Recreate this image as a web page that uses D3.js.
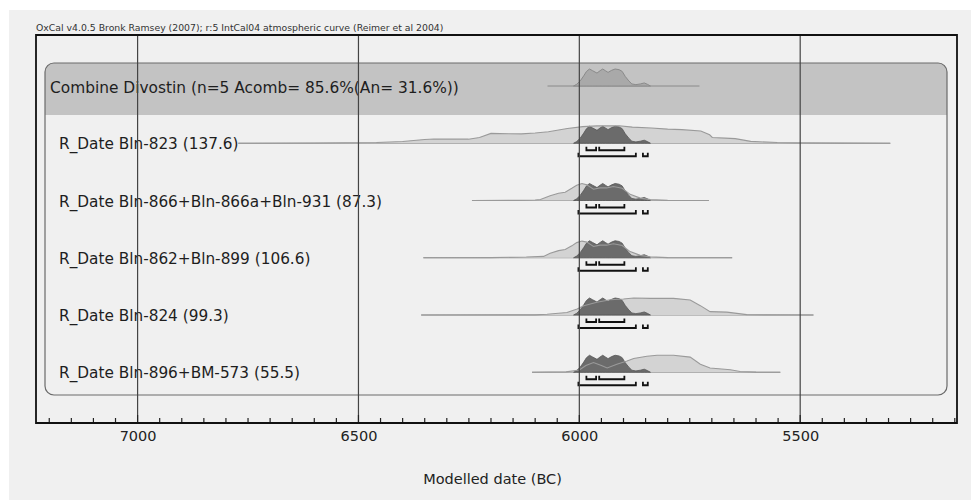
<!DOCTYPE html>
<html><head><meta charset="utf-8">
<script src="https://cdn.jsdelivr.net/npm/d3@7"></script>
<style>
html,body{margin:0;padding:0;background:#ffffff;}
svg{display:block;font-family:"DejaVu Sans",sans-serif;}
</style></head>
<body>
<svg id="chart" width="971" height="500"></svg>
<script>
// ---------- data ----------
const headerText = "OxCal v4.0.5 Bronk Ramsey (2007); r:5 IntCal04 atmospheric curve (Reimer et al 2004)";
const axisTitle = "Modelled date (BC)";
const majorTicks = [7000, 6500, 6000, 5500];
const minorTicks = d3.range(7200, 5149, -50);

const rowNames = [
  "Combine Divostin (n=5 Acomb= 85.6%(An= 31.6%))",
  "R_Date Bln-823 (137.6)",
  "R_Date Bln-866+Bln-866a+Bln-931 (87.3)",
  "R_Date Bln-862+Bln-899 (106.6)",
  "R_Date Bln-824 (99.3)",
  "R_Date Bln-896+BM-573 (55.5)"
];
// baseline extent [from, to] in years BC
const rowSpans = [
  [6072, 5728],
  [6772, 5296],
  [6243, 5707],
  [6353, 5654],
  [6358, 5470],
  [6107, 5545]
];
// posterior (shared by the combine and every date) [year BC, relative density]
const posterior = [
  [6013,0],[6006,0.1],[5998,0.3],[5990,0.6],[5984,0.85],[5977,1.0],[5970,0.9],[5960,0.76],
  [5953,0.9],[5947,1.0],[5941,0.9],[5935,0.8],[5927,0.92],[5919,1.0],[5910,0.96],[5903,0.86],
  [5896,0.56],[5888,0.3],[5881,0.12],[5872,0.08],[5862,0.12],[5853,0.18],[5846,0.1],[5839,0]
];
// unmodelled (prior) distributions of the dates
const priorBln823 = [
  [6772,0],[6600,0.01],[6459,0.04],[6400,0.1],[6350,0.22],[6329,0.25],[6251,0.24],[6226,0.34],
  [6200,0.58],[6160,0.56],[6131,0.55],[6100,0.6],[6070,0.68],[6027,0.87],[5992,0.98],[5960,1.02],
  [5910,1.03],[5880,0.95],[5837,0.9],[5800,0.83],[5768,0.8],[5725,0.72],[5705,0.5],[5699,0.34],
  [5670,0.3],[5647,0.27],[5612,0.11],[5552,0.04],[5509,0.02],[5400,0.005],[5296,0]
];
const priorBln866 = [
  [6243,0],[6150,0.01],[6100,0.03],[6088,0.06],[6066,0.28],[6047,0.43],[6032,0.49],[6017,0.72],
  [6006,0.9],[5994,1.0],[5983,0.92],[5968,0.66],[5953,0.74],[5938,0.74],[5923,0.82],[5903,0.72],
  [5885,0.36],[5862,0.14],[5839,0.05],[5800,0.01],[5707,0]
];
const priorBln862 = [
  [6353,0],[6201,0.01],[6120,0.04],[6081,0.08],[6066,0.26],[6047,0.42],[6032,0.49],[6017,0.7],
  [6006,0.89],[5994,0.98],[5983,0.92],[5968,0.66],[5953,0.74],[5938,0.74],[5923,0.82],[5903,0.72],
  [5885,0.36],[5862,0.14],[5839,0.05],[5800,0.01],[5654,0]
];
const priorBln824 = [
  [6358,0],[6150,0.005],[6100,0.01],[6073,0.04],[6028,0.15],[6005,0.35],[5990,0.55],[5960,0.75],
  [5930,0.9],[5900,0.94],[5877,1.0],[5839,0.98],[5787,0.98],[5749,0.88],[5726,0.55],[5704,0.2],
  [5666,0.17],[5621,0.02],[5580,0.005],[5470,0]
];
const priorBln896 = [
  [6107,0],[6030,0.02],[6000,0.13],[5985,0.4],[5968,0.57],[5950,0.4],[5937,0.25],[5915,0.47],
  [5892,0.66],[5877,0.81],[5847,0.94],[5824,1.0],[5787,1.0],[5749,0.89],[5726,0.47],[5704,0.25],
  [5658,0.15],[5636,0.04],[5600,0.005],[5545,0]
];
const priors = [null, priorBln823, priorBln866, priorBln862, priorBln824, priorBln896];
// highest probability ranges [from, to] BC
const range68 = [[5984, 5962], [5955, 5898]];
const range95 = [[6002, 5872], [5856, 5845]];

// ---------- layout ----------
const W = 971, H = 500;
const frame = {left: 36, right: 957, top: 35, bottom: 423};
const box = {left: 45, right: 947, top: 63, bottom: 395, band: 115, r: 9};
const svg = d3.select("#chart");

const x = d3.scaleLinear().domain([7230, 5145]).range([frame.left, frame.right]);
const yRow = d3.scalePoint().domain(d3.range(rowNames.length)).range([86, 372.25]);
const hScale = d3.scaleLinear().domain([0, 1]).range([0, 17]);

svg.append("rect").attr("x", 9).attr("y", 10).attr("width", W - 9).attr("height", H - 10).attr("fill", "#f0f0f0");

// clip for rounded box
const defs = svg.append("defs");
defs.append("clipPath").attr("id", "boxclip").append("rect")
  .attr("x", box.left).attr("y", box.top).attr("width", box.right - box.left)
  .attr("height", box.bottom - box.top).attr("rx", box.r);

svg.append("rect").attr("clip-path", "url(#boxclip)")
  .attr("x", box.left).attr("y", box.top).attr("width", box.right - box.left)
  .attr("height", box.band - box.top).attr("fill", "#c3c3c3");

// header
svg.append("text").attr("x", frame.left).attr("y", 31).attr("font-size", 9.3).attr("fill", "#333")
  .text(headerText);

// labels
rowNames.forEach((name, i) => {
  svg.append("text")
    .attr("x", i === 0 ? 50 : 59)
    .attr("y", yRow(i) + (i === 0 ? 2 : 1))
    .attr("dominant-baseline", "central")
    .attr("font-size", i === 0 ? 15.4 : 15.3)
    .attr("fill", "#1e1e1e")
    .text(name);
});

const area = (base) => d3.area().x(d => x(d[0])).y0(base).y1(d => base - hScale(d[1])).curve(d3.curveLinear);
const line = (base) => d3.line().x(d => x(d[0])).y(d => base - hScale(d[1])).curve(d3.curveLinear);

rowNames.forEach((name, i) => {
  const b = yRow(i);
  const g = svg.append("g");
  // baseline
  g.append("line").attr("x1", x(rowSpans[i][0])).attr("x2", x(rowSpans[i][1]))
    .attr("y1", b).attr("y2", b).attr("stroke", "#8a8a8a").attr("stroke-width", 1);
  if (i === 0) {
    g.append("path").datum(posterior).attr("d", area(b)).attr("fill", "#a9a9a9")
      .attr("stroke", "#8a8a8a").attr("stroke-width", 1);
  } else {
    g.append("path").datum(priors[i]).attr("d", area(b)).attr("fill", "#d3d3d3");
    g.append("path").datum(posterior).attr("d", area(b)).attr("fill", "#6b6b6b")
      .attr("stroke", "#555").attr("stroke-width", 0.8);
    g.append("path").datum(priors[i]).attr("d", line(b)).attr("fill", "none")
      .attr("stroke", "#9a9a9a").attr("stroke-width", 1.1);
    // ranges
    const bracket = (r, yy) => {
      const p = d3.path();
      p.moveTo(x(r[0]), yy - 3.5); p.lineTo(x(r[0]), yy); p.lineTo(x(r[1]), yy); p.lineTo(x(r[1]), yy - 3.5);
      return p.toString();
    };
    range68.forEach(r => g.append("path").attr("d", bracket(r, b + 7)).attr("fill", "none")
      .attr("stroke", "#111").attr("stroke-width", 1.8));
    range95.forEach(r => g.append("path").attr("d", bracket(r, b + 13)).attr("fill", "none")
      .attr("stroke", "#111").attr("stroke-width", 1.8));
  }
});

// rounded box outline
svg.append("rect")
  .attr("x", box.left).attr("y", box.top).attr("width", box.right - box.left)
  .attr("height", box.bottom - box.top).attr("rx", box.r)
  .attr("fill", "none").attr("stroke", "#6a6a6a").attr("stroke-width", 1.2);

// grid lines
svg.append("g").selectAll("line").data(majorTicks).join("line")
  .attr("x1", d => x(d)).attr("x2", d => x(d)).attr("y1", frame.top).attr("y2", frame.bottom)
  .attr("stroke", "#444").attr("stroke-width", 1.2);

// axis
const axis = d3.axisBottom(x).tickValues(majorTicks).tickFormat(d3.format("d")).tickSize(0).tickPadding(8);
const ag = svg.append("g").attr("transform", `translate(0,${frame.bottom})`).call(axis);
ag.select(".domain").remove();
ag.selectAll("text").attr("font-size", 14.5).attr("font-family", "DejaVu Sans").attr("fill", "#222");
svg.append("g").selectAll("line").data(minorTicks).join("line")
  .attr("x1", d => x(d)).attr("x2", d => x(d))
  .attr("y1", d => frame.bottom - (d % 500 === 0 ? 8 : 5)).attr("y2", frame.bottom)
  .attr("stroke", "#222").attr("stroke-width", 1.2);

// frame
svg.append("path")
  .attr("d", `M${frame.left},${frame.top}H${frame.right}V${frame.bottom}H${frame.left}Z`)
  .attr("fill", "none").attr("stroke", "#111").attr("stroke-width", 1.8);

svg.append("text").attr("x", (frame.left + frame.right) / 2 - 4).attr("y", 479)
  .attr("text-anchor", "middle").attr("dominant-baseline", "central")
  .attr("font-size", 14.5).attr("fill", "#222").text(axisTitle);
</script>
</body></html>
